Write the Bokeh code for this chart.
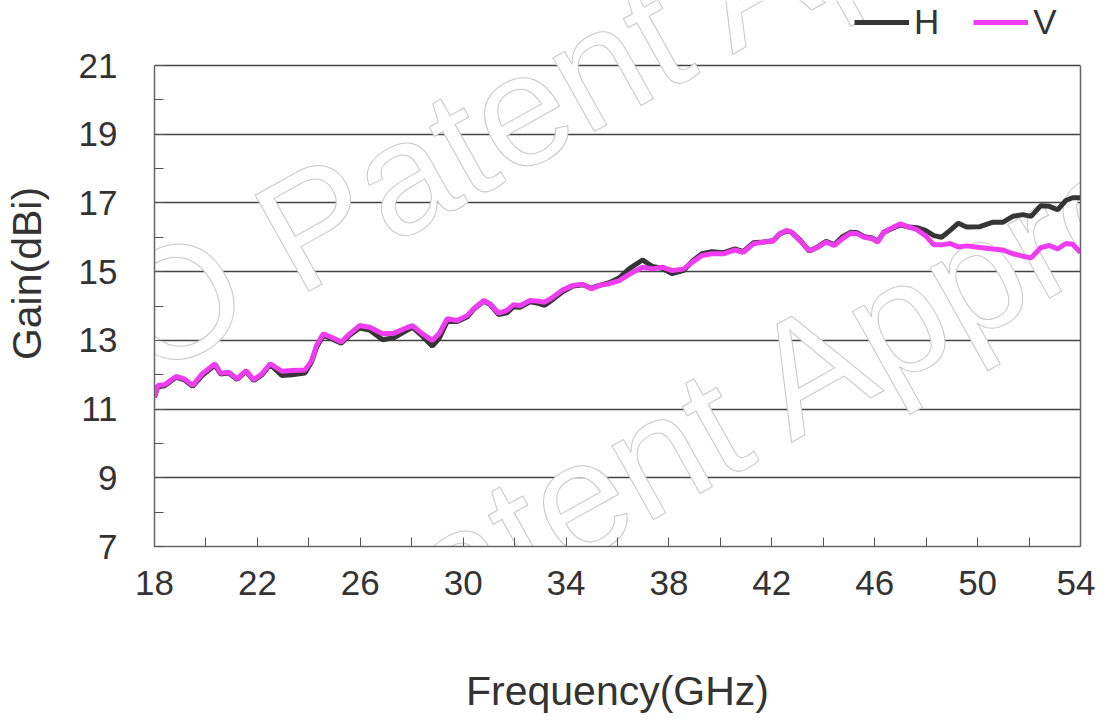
from bokeh.plotting import figure
from bokeh.models import FixedTicker, Legend, LegendItem, Label, Range1d, LinearAxis
from bokeh.embed import file_html
from bokeh.resources import INLINE

# ---- data ----
freq = [18.00, 18.13, 18.39, 18.84, 19.16, 19.48, 19.86, 20.35, 20.57, 20.89,
        21.21, 21.56, 21.86, 22.18, 22.50, 22.95, 23.34, 23.85, 24.11, 24.30,
        24.56, 24.88, 25.26, 25.59, 25.97, 26.36, 26.87, 27.32, 27.71, 28.03,
        28.42, 28.80, 29.06, 29.38, 29.77, 30.15, 30.41, 30.80, 31.05, 31.38,
        31.70, 31.96, 32.21, 32.60, 32.92, 33.17, 33.50, 33.88, 34.27, 34.66,
        34.98, 35.30, 35.68, 36.07, 36.45, 36.97, 37.36, 37.74, 38.13, 38.58,
        38.90, 39.28, 39.67, 40.12, 40.57, 40.89, 41.28, 41.66, 42.05, 42.31,
        42.56, 42.76, 43.08, 43.46, 43.78, 44.11, 44.43, 44.75, 45.07, 45.33,
        45.59, 45.91, 46.11, 46.36, 46.74, 47.00, 47.32, 47.64, 47.97, 48.30,
        48.60, 48.93, 49.25, 49.57, 50.09, 50.60, 50.99, 51.37, 51.76, 52.08,
        52.46, 52.79, 53.11, 53.43, 53.69, 54.00]
gain_v = [11.35, 11.69, 11.71, 11.95, 11.88, 11.69, 12.03, 12.32, 12.04, 12.07,
          11.88, 12.12, 11.85, 12.03, 12.32, 12.10, 12.12, 12.14, 12.41, 12.85,
          13.19, 13.09, 12.95, 13.19, 13.43, 13.38, 13.19, 13.21, 13.34, 13.43,
          13.19, 13.00, 13.19, 13.63, 13.58, 13.72, 13.92, 14.16, 14.06, 13.79,
          13.87, 14.04, 14.01, 14.16, 14.14, 14.11, 14.26, 14.47, 14.60, 14.63,
          14.50, 14.60, 14.65, 14.74, 14.92, 15.13, 15.08, 15.13, 15.03, 15.08,
          15.27, 15.47, 15.52, 15.52, 15.63, 15.56, 15.81, 15.86, 15.89, 16.10,
          16.20, 16.15, 15.91, 15.61, 15.71, 15.86, 15.76, 15.96, 16.12, 16.10,
          16.00, 15.96, 15.86, 16.15, 16.30, 16.39, 16.30, 16.22, 16.05, 15.78,
          15.78, 15.82, 15.72, 15.75, 15.70, 15.66, 15.63, 15.52, 15.45, 15.40,
          15.70, 15.76, 15.66, 15.82, 15.80, 15.56]
gain_h = [11.35, 11.65, 11.68, 11.93, 11.85, 11.66, 11.98, 12.28, 12.02, 12.05,
          11.86, 12.10, 11.83, 12.00, 12.30, 11.98, 12.00, 12.05, 12.38, 12.80,
          13.15, 13.05, 12.92, 13.15, 13.36, 13.30, 13.02, 13.08, 13.25, 13.38,
          13.12, 12.83, 13.05, 13.55, 13.55, 13.68, 13.90, 14.14, 14.04, 13.75,
          13.80, 13.98, 13.96, 14.12, 14.08, 14.02, 14.20, 14.42, 14.58, 14.62,
          14.52, 14.60, 14.68, 14.82, 15.08, 15.34, 15.15, 15.10, 14.94, 15.04,
          15.30, 15.52, 15.58, 15.55, 15.66, 15.58, 15.84, 15.86, 15.90, 16.10,
          16.18, 16.15, 15.93, 15.60, 15.72, 15.88, 15.78, 16.02, 16.15, 16.13,
          16.02, 15.98, 15.88, 16.15, 16.28, 16.36, 16.30, 16.28, 16.20, 16.05,
          16.00, 16.20, 16.41, 16.30, 16.31, 16.44, 16.44, 16.61, 16.66, 16.61,
          16.92, 16.90, 16.80, 17.07, 17.15, 17.15]
series_names = ["H", "V"]
x_major = [18, 22, 26, 30, 34, 38, 42, 46, 50, 54]
x_minor = [20, 24, 28, 32, 36, 40, 44, 48, 52]
y_major = [7, 9, 11, 13, 15, 17, 19, 21]
y_minor = [8, 10, 12, 14, 16, 18, 20]
watermark = "INFO Patent Approved"

TEXT = "#333333"
FONT = "Liberation Sans"
Y_LO, Y_HI = 7, 21
# the frame reaches the top of the canvas so the legend above 21 dB is drawn
Y_TOP = Y_HI + 65.0 / (481.0 / (Y_HI - Y_LO))

p = figure(width=1095, height=720, output_backend="svg", toolbar_location=None,
           x_range=Range1d(18, 54), y_range=Range1d(Y_LO, Y_TOP),
           min_border_left=147, min_border_right=15, min_border_top=0,
           min_border_bottom=174)

# watermark (outlined text)
for sx, sy in [(450, 484), (509, 96), (573, -277)]:
    wm = Label(x=sx, y=sy, x_units="screen", y_units="screen", text=watermark,
               angle=0.51, text_align="center", text_baseline="middle",
               text_font=FONT, text_font_size="160px",
               text_color="white", text_outline_color="#c8c8c8",
               level="underlay")
    p.add_layout(wm)

p.outline_line_color = None
p.xgrid.grid_line_color = None
p.ygrid.grid_line_color = "#444444"
p.ygrid.grid_line_width = 1.5
p.ygrid.ticker = FixedTicker(ticks=y_major)

p.xaxis.ticker = FixedTicker(ticks=x_major, minor_ticks=x_minor)
p.yaxis.ticker = FixedTicker(ticks=y_major, minor_ticks=y_minor)
p.yaxis.bounds = (Y_LO, Y_HI)
for ax in (p.xaxis, p.yaxis):
    ax.axis_line_color = "#666666"
    ax.axis_line_width = 1.5
    ax.major_tick_in = 9
    ax.major_tick_out = 0
    ax.minor_tick_in = 9
    ax.minor_tick_out = 0
    ax.major_tick_line_color = "#555555"
    ax.minor_tick_line_color = "#555555"
    ax.major_label_text_font = FONT
    ax.major_label_text_font_size = "35px"
    ax.major_label_text_color = TEXT
    ax.axis_label_text_font = FONT
    ax.axis_label_text_font_size = "41px"
    ax.axis_label_text_font_style = "normal"
    ax.axis_label_text_color = TEXT

p.xaxis.axis_label = "Frequency(GHz)"
p.yaxis.axis_label = "Gain(dBi)"
p.xaxis.major_label_standoff = 24
p.yaxis.major_label_standoff = 37
p.xaxis.axis_label_standoff = 70
p.yaxis.axis_label_standoff = 26

# right edge of the plot box
right_axis = LinearAxis(ticker=FixedTicker(ticks=[]), bounds=(Y_LO, Y_HI),
                        axis_line_color="#666666", axis_line_width=1.5,
                        major_tick_line_color=None, minor_tick_line_color=None,
                        major_label_text_font_size="0px")
p.add_layout(right_axis, "right")

r_h = p.line(freq, gain_h, line_color="#353535", line_width=5)
r_v = p.line(freq, gain_v, line_color="#f03cf0", line_width=5)

legend = Legend(items=[LegendItem(label=series_names[0], renderers=[r_h]),
                       LegendItem(label=series_names[1], renderers=[r_v])],
                orientation="horizontal", location=(700, 504),
                glyph_width=55, glyph_height=20, label_standoff=5, spacing=34,
                padding=0, margin=0, border_line_color=None,
                background_fill_alpha=0,
                label_text_font=FONT, label_text_font_size="35px",
                label_text_color=TEXT)
p.add_layout(legend, "center")

open("out.html", "w").write(file_html(p, INLINE))
